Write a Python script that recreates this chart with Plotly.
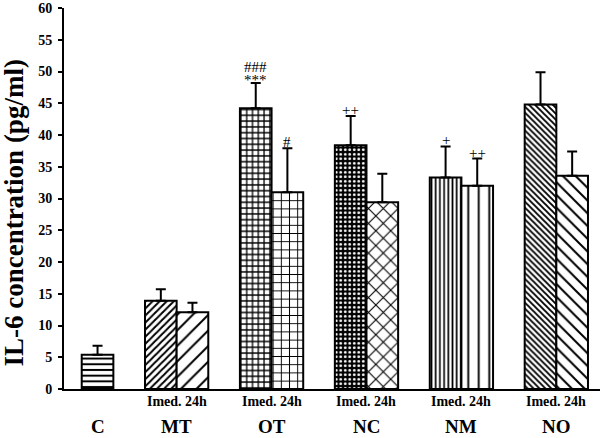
import plotly.graph_objects as go

# ---- data ----
groups = ["C", "MT", "OT", "NC", "NM", "NO"]
sub_labels = "Imed. 24h"
imed_values = [5.4, 13.9, 44.2, 38.4, 33.3, 44.8]
imed_errors = [1.4, 1.8, 4.0, 4.6, 4.9, 5.1]
h24_values = [12.1, 31.0, 29.4, 32.0, 33.6]      # MT..NO
h24_errors = [1.5, 6.9, 4.5, 4.3, 3.8]
imed_marks = [[], [], ["***", "###"], ["++"], ["+"], []]
h24_marks = [[], ["#"], [], ["++"], []]
y_ticks = list(range(0, 61, 5))

# ---- styles ----
imed_shapes = ["-", "/", "+", ".", "|", "\\"]
imed_sizes = [5.7, 5, 5.8, 4.5, 4.2, 4.2]
imed_solid = [0.35, 0.4, 0.4, 0.3, 0.4, 0.45]
imed_fg = ["black", "black", "black", "white", "black", "black"]
imed_bg = ["white", "white", "white", "black", "white", "white"]
h24_shapes = ["/", "+", "x", "|", "\\"]
h24_sizes = [11, 8.2, 10.5, 10.5, 9]
h24_solid = [0.18, 0.22, 0.2, 0.18, 0.22]

SERIF = "Liberation Serif, Times New Roman, serif"

# group centers: C is a single bar; others pairs
centers = [3 * i for i in range(len(groups))]
centers[0] = 0.5
imed_x = [centers[0]] + [c - 0.5 for c in centers[1:]]
h24_x = [c + 0.5 for c in centers[1:]]

fig = go.Figure()
fig.add_trace(go.Bar(
    x=imed_x, y=imed_values, width=1,
    marker=dict(color="white", line=dict(color="black", width=2),
                pattern=dict(shape=imed_shapes, size=imed_sizes, solidity=imed_solid,
                             fgcolor=imed_fg, bgcolor=imed_bg, fillmode="replace")),
    error_y=dict(type="data", symmetric=False, array=imed_errors,
                 arrayminus=[0] * len(imed_errors), color="black", thickness=2, width=5),
    showlegend=False, hoverinfo="skip"))
fig.add_trace(go.Bar(
    x=h24_x, y=h24_values, width=1,
    marker=dict(color="white", line=dict(color="black", width=2),
                pattern=dict(shape=h24_shapes, size=h24_sizes, solidity=h24_solid,
                             fgcolor="black", bgcolor="white", fillmode="replace")),
    error_y=dict(type="data", symmetric=False, array=h24_errors,
                 arrayminus=[0] * len(h24_errors), color="black", thickness=2, width=5),
    showlegend=False, hoverinfo="skip"))

annotations = []
def add_marks(xs, vals, errs, marks):
    for x, v, e, ms in zip(xs, vals, errs, marks):
        base = -4 - (3 if ms and "*" in ms[0] else 0)
        for k, m in enumerate(ms):
            annotations.append(dict(x=x, y=v + e, xref="x", yref="y", text=m,
                                    showarrow=False, yanchor="bottom", yshift=base + 13 * k,
                                    font=dict(family=SERIF, size=15, color="black")))
add_marks(imed_x, imed_values, imed_errors, imed_marks)
add_marks(h24_x, h24_values, h24_errors, h24_marks)

for i, g in enumerate(groups):
    annotations.append(dict(x=centers[i], y=-0.0997, xref="x", yref="paper", text=g,
                            showarrow=False, yanchor="middle",
                            font=dict(family=SERIF, size=19, color="black", weight="bold")))
    if i > 0:
        annotations.append(dict(x=centers[i], y=-0.034, xref="x", yref="paper", text=sub_labels,
                                showarrow=False, yanchor="middle",
                                font=dict(family=SERIF, size=14, color="black", weight="bold")))

annotations.append(dict(x=-0.095, y=0.4606, xref="paper", yref="paper",
                        text="IL-6 concentration (pg/ml)", textangle=-90, showarrow=False,
                        xanchor="center", yanchor="middle",
                        font=dict(family=SERIF, size=27, color="black", weight="bold")))

fig.update_layout(
    width=600, height=438,
    margin=dict(l=64, r=0, t=8, b=49),
    paper_bgcolor="white", plot_bgcolor="white",
    annotations=annotations,
    xaxis=dict(range=[-0.56, 16.38], showline=True, linecolor="black", linewidth=2,
               showticklabels=False, ticks="", showgrid=False, zeroline=False),
    yaxis=dict(range=[0, 60], tickvals=y_ticks, showline=True, linecolor="black", linewidth=2,
               ticks="outside", ticklen=4, tickwidth=1.5, tickcolor="black",
               showgrid=False, zeroline=False, ticklabelstandoff=3,
               tickfont=dict(family=SERIF, size=14, color="black", weight="bold")),
)

fig.write_html("out.html", config={"displayModeBar": False},
               post_script="document.body.style.margin='0';")
